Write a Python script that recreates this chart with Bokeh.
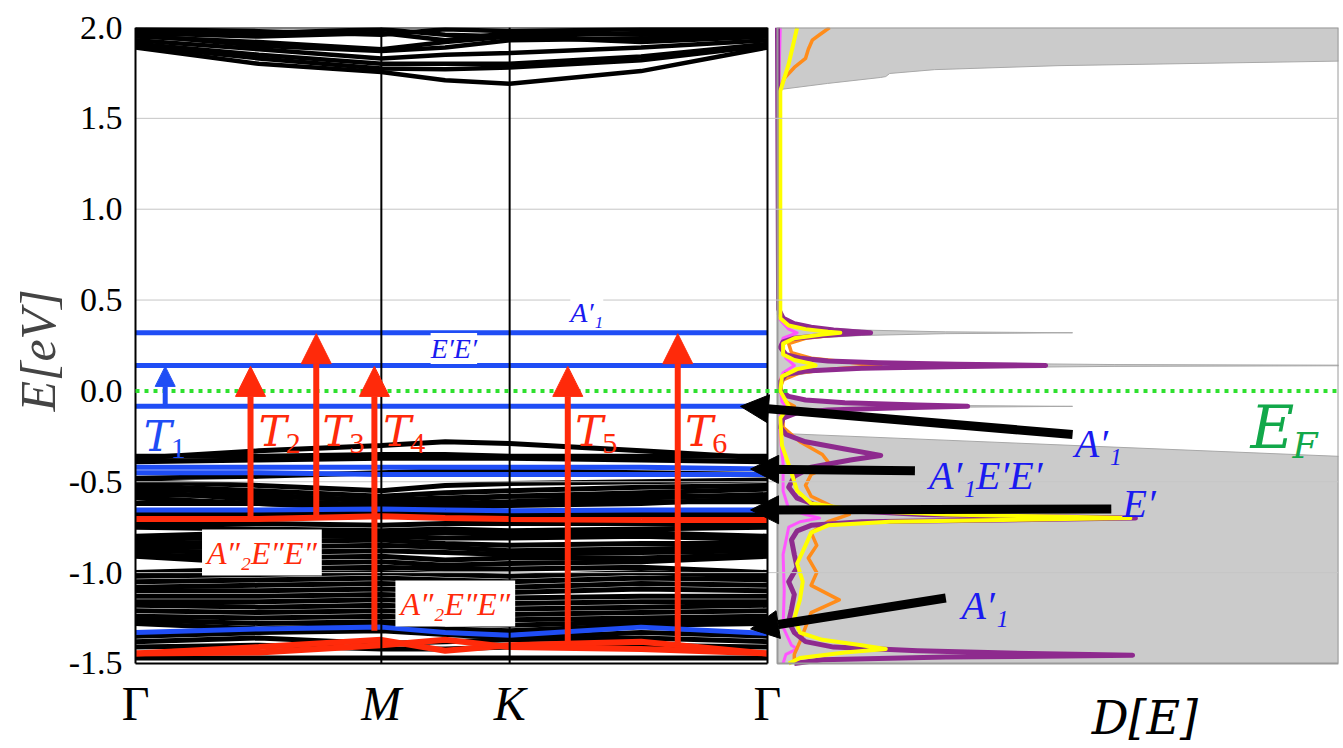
from bokeh.plotting import figure
from bokeh.models import Range1d, FixedTicker, Arrow, NormalHead, Label, ColumnDataSource
from bokeh.core.properties import value
from bokeh.embed import file_html
from bokeh.resources import INLINE

# ---------------- data ----------------
kgrid = [0.0, 0.195, 0.389, 0.49, 0.592, 0.80, 1.0]
kpoint_k = [0.0, 0.389, 0.592, 1.0]
kpoint_labels = ["Γ", "M", "K", "Γ"]
kpoint_italic = [False, True, True, False]
kpoint_label_e = -1.72

ytick_values = [2.0, 1.5, 1.0, 0.5, 0.0, -0.5, -1.0, -1.5]
ytick_labels = ["2.0", "1.5", "1.0", "0.5", "0.0", "-0.5", "-1.0", "-1.5"]
grid_values = [1.5, 1.0, 0.5, -0.5, -1.0]
e_fermi = 0.0
e_min, e_max = -1.5, 2.0

conduction_black = [
    [1.89, 1.80, 1.755, 1.71, 1.69, 1.76, 1.89],
    [1.90, 1.83, 1.775, 1.77, 1.78, 1.82, 1.90],
    [1.91, 1.85, 1.80, 1.80, 1.80, 1.84, 1.91],
    [1.93, 1.88, 1.83, 1.85, 1.86, 1.89, 1.93],
    [1.95, 1.92, 1.88, 1.92, 1.95, 1.92, 1.95],
    [1.97, 1.95, 1.97, 1.93, 1.97, 1.96, 1.97],
    [1.99, 1.98, 1.96, 1.99, 1.98, 1.99, 1.99],
    [1.96, 1.90, 1.87, 1.89, 1.93, 1.94, 1.96],
    [1.98, 1.97, 1.99, 1.96, 1.95, 1.97, 1.98],
]

valence_black = [
    [-0.37, -0.33, -0.30, -0.28, -0.29, -0.33, -0.37],
    [-0.36, -0.36, -0.35, -0.35, -0.36, -0.36, -0.36],
    [-0.39, -0.38, -0.37, -0.37, -0.37, -0.38, -0.39],
    [-0.48, -0.47, -0.45, -0.44, -0.44, -0.45, -0.46],
    [-0.50, -0.52, -0.55, -0.52, -0.51, -0.50, -0.49],
    [-0.52, -0.55, -0.58, -0.56, -0.55, -0.53, -0.52],
    [-0.53, -0.57, -0.61, -0.60, -0.58, -0.56, -0.54],
    [-0.55, -0.60, -0.63, -0.62, -0.61, -0.59, -0.57],
    [-0.57, -0.58, -0.60, -0.59, -0.58, -0.58, -0.58],
    [-0.59, -0.62, -0.65, -0.65, -0.63, -0.62, -0.59],
    [-0.62, -0.62, -0.64, -0.63, -0.62, -0.61, -0.61],
    [-0.68, -0.68, -0.67, -0.68, -0.68, -0.68, -0.68],
    [-0.73, -0.73, -0.74, -0.73, -0.73, -0.73, -0.73],
    [-0.75, -0.76, -0.77, -0.76, -0.77, -0.76, -0.75],
    [-0.80, -0.78, -0.78, -0.78, -0.79, -0.78, -0.80],
    [-0.82, -0.80, -0.80, -0.81, -0.81, -0.80, -0.82],
    [-0.84, -0.83, -0.82, -0.84, -0.85, -0.84, -0.84],
    [-0.86, -0.86, -0.85, -0.86, -0.88, -0.87, -0.86],
    [-0.88, -0.89, -0.88, -0.89, -0.90, -0.89, -0.88],
    [-0.90, -0.92, -0.91, -0.93, -0.92, -0.92, -0.90],
    [-0.91, -0.95, -0.94, -0.96, -0.95, -0.94, -0.91],
    [-1.00, -0.98, -0.97, -0.98, -0.98, -0.97, -1.00],
    [-1.02, -1.01, -1.00, -1.01, -1.02, -1.00, -1.02],
    [-1.05, -1.04, -1.03, -1.04, -1.05, -1.03, -1.04],
    [-1.08, -1.07, -1.06, -1.07, -1.08, -1.06, -1.07],
    [-1.10, -1.10, -1.09, -1.10, -1.11, -1.09, -1.10],
    [-1.13, -1.13, -1.12, -1.13, -1.14, -1.13, -1.13],
    [-1.16, -1.16, -1.15, -1.16, -1.17, -1.16, -1.16],
    [-1.18, -1.19, -1.18, -1.19, -1.20, -1.19, -1.18],
    [-1.21, -1.22, -1.21, -1.22, -1.23, -1.22, -1.21],
    [-1.24, -1.25, -1.24, -1.25, -1.26, -1.25, -1.24],
    [-1.26, -1.28, -1.27, -1.28, -1.29, -1.27, -1.26],
    [-1.28, -1.31, -1.29, -1.31, -1.32, -1.29, -1.28],
    [-1.35, -1.33, -1.32, -1.34, -1.36, -1.33, -1.35],
    [-1.38, -1.36, -1.39, -1.38, -1.37, -1.36, -1.38],
    [-1.41, -1.40, -1.42, -1.42, -1.41, -1.40, -1.41],
    [-1.47, -1.47, -1.47, -1.47, -1.47, -1.47, -1.47],
]

blue_bands = [
    [0.32, 0.32, 0.32, 0.32, 0.32, 0.32, 0.32],
    [0.14, 0.14, 0.14, 0.14, 0.14, 0.14, 0.14],
    [-0.085, -0.085, -0.085, -0.085, -0.085, -0.085, -0.085],
    [-0.42, -0.42, -0.42, -0.42, -0.42, -0.42, -0.43],
    [-0.45, -0.45, -0.46, -0.46, -0.46, -0.46, -0.46],
    [-0.655, -0.655, -0.65, -0.655, -0.66, -0.655, -0.655],
    [-1.33, -1.31, -1.30, -1.33, -1.345, -1.30, -1.335],
]

red_bands = [
    [-0.705, -0.705, -0.69, -0.70, -0.705, -0.71, -0.71],
    [-1.445, -1.41, -1.37, -1.43, -1.40, -1.38, -1.445],
    [-1.445, -1.44, -1.40, -1.37, -1.41, -1.42, -1.445],
]

trans_k = [0.047, 0.182, 0.286, 0.378, 0.684, 0.858]
trans_e_start = [-0.085, -0.69, -0.69, -1.32, -1.38, -1.40]
trans_e_end = [0.135, 0.135, 0.315, 0.135, 0.135, 0.315]
trans_letter = ["T", "T", "T", "T", "T", "T"]
trans_index = ["1", "2", "3", "4", "5", "6"]
trans_label_k = [0.013, 0.195, 0.296, 0.392, 0.696, 0.870]
trans_label_e = [-0.25, -0.225, -0.225, -0.225, -0.225, -0.225]

total_dos = [(2.0, 12), (1.82, 12), (1.815, 10), (1.79, 5.0), (1.768, 2.8), (1.747, 2.0),
             (1.73, 1.93), (1.725, 1.84), (1.692, 0.89), (1.659, 0.05), (1.642, 0.0),
             (0.40, 0.0), (0.37, 0.2), (0.35, 0.6), (0.335, 1.5), (0.325, 3.0), (0.32, 5.26),
             (0.315, 3.0), (0.305, 1.5), (0.29, 0.6), (0.27, 0.2), (0.24, 0.05), (0.20, 0.2),
             (0.17, 0.8), (0.155, 2.5), (0.145, 6.0), (0.14, 12), (0.135, 6.0), (0.125, 2.5),
             (0.11, 0.8), (0.08, 0.2), (0.04, 0.05), (-0.02, 0.05), (-0.05, 0.4), (-0.07, 1.5),
             (-0.08, 3.0), (-0.085, 5.26), (-0.09, 3.0), (-0.10, 1.5), (-0.12, 0.4),
             (-0.15, 0.05), (-0.234, 0.05), (-0.36, 10.0), (-0.37, 12), (-1.5, 12)]

purple_pdos = [(2.0, 0.0), (0.45, 0.02), (0.40, 0.1), (0.37, 0.3), (0.35, 0.6), (0.335, 1.0),
               (0.325, 1.4), (0.32, 1.66), (0.315, 1.3), (0.305, 0.8), (0.29, 0.3), (0.27, 0.1),
               (0.24, 0.05), (0.20, 0.15), (0.18, 0.4), (0.165, 0.9), (0.155, 1.8), (0.147, 3.2),
               (0.14, 4.78), (0.133, 3.0), (0.125, 1.5), (0.11, 0.5), (0.09, 0.15), (0.05, 0.05),
               (0.0, 0.05), (-0.03, 0.2), (-0.05, 0.5), (-0.065, 1.2), (-0.077, 2.5),
               (-0.085, 3.39), (-0.093, 2.2), (-0.105, 0.9), (-0.12, 0.35), (-0.15, 0.1),
               (-0.20, 0.05), (-0.24, 0.15), (-0.28, 0.5), (-0.32, 1.2), (-0.355, 1.84),
               (-0.38, 1.3), (-0.42, 0.6), (-0.47, 0.3), (-0.53, 0.2), (-0.59, 0.35),
               (-0.63, 0.7), (-0.66, 1.3), (-0.68, 2.6), (-0.69, 4.2), (-0.70, 6.38),
               (-0.71, 4.0), (-0.72, 1.5), (-0.74, 0.6), (-0.77, 0.35), (-0.82, 0.25),
               (-0.90, 0.3), (-0.97, 0.35), (-1.05, 0.2), (-1.12, 0.3), (-1.20, 0.25),
               (-1.27, 0.2), (-1.33, 0.3), (-1.38, 0.5), (-1.41, 1.0), (-1.43, 2.5),
               (-1.445, 4.5), (-1.455, 6.33), (-1.465, 3.0), (-1.48, 0.8), (-1.50, 0.3)]

yellow_pdos = [(2.0, 0.35), (1.8, 0.2), (1.65, 0.05), (0.40, 0.05), (0.36, 0.2), (0.34, 0.5),
               (0.325, 0.9), (0.32, 1.12), (0.31, 0.8), (0.29, 0.3), (0.26, 0.1), (0.20, 0.1),
               (0.17, 0.3), (0.15, 0.6), (0.14, 0.68), (0.12, 0.35), (0.08, 0.08), (0.0, 0.05),
               (-0.085, 0.2), (-0.15, 0.05), (-0.30, 0.08), (-0.45, 0.25), (-0.55, 0.35),
               (-0.62, 0.6), (-0.66, 1.5), (-0.68, 3.0), (-0.69, 4.6), (-0.70, 6.29),
               (-0.71, 4.0), (-0.72, 2.0), (-0.74, 0.9), (-0.78, 0.6), (-0.85, 0.5),
               (-0.95, 0.35), (-1.05, 0.45), (-1.15, 0.4), (-1.25, 0.3), (-1.33, 0.4),
               (-1.37, 0.8), (-1.40, 1.5), (-1.42, 1.93), (-1.44, 1.2), (-1.47, 0.4), (-1.50, 0.2)]

orange_pdos = [(2.0, 0.93), (1.96, 0.75), (1.93, 0.62), (1.88, 0.55), (1.83, 0.5), (1.78, 0.3),
               (1.72, 0.12), (1.64, 0.02), (0.42, 0.02), (0.37, 0.2), (0.345, 0.7), (0.33, 1.2),
               (0.32, 1.44), (0.31, 1.1), (0.29, 0.5), (0.26, 0.2), (0.21, 0.25), (0.18, 0.6),
               (0.16, 1.2), (0.14, 1.84), (0.12, 1.0), (0.10, 0.4), (0.06, 0.1), (0.02, 0.05),
               (-0.06, 0.15), (-0.085, 0.3), (-0.11, 0.1), (-0.20, 0.1), (-0.28, 0.4),
               (-0.35, 0.8), (-0.41, 0.95), (-0.46, 0.6), (-0.52, 0.5), (-0.58, 0.6),
               (-0.64, 1.0), (-0.68, 1.28), (-0.72, 0.9), (-0.78, 0.6), (-0.85, 0.7),
               (-0.92, 0.55), (-1.00, 0.7), (-1.07, 0.6), (-1.15, 1.1), (-1.22, 0.6),
               (-1.30, 0.5), (-1.38, 0.4), (-1.45, 0.3), (-1.50, 0.3)]

magenta_pdos = [(2.0, 0.05), (1.65, 0.02), (0.40, 0.02), (0.34, 0.2), (0.32, 0.35), (0.29, 0.1),
                (0.25, 0.05), (0.18, 0.15), (0.14, 0.3), (0.10, 0.1), (0.05, 0.03), (-0.06, 0.08),
                (-0.085, 0.15), (-0.12, 0.05), (-0.2, 0.03), (-0.4, 0.1), (-0.55, 0.1),
                (-0.65, 0.2), (-0.68, 0.5), (-0.70, 0.75), (-0.72, 0.4), (-0.75, 0.2),
                (-0.9, 0.1), (-1.1, 0.12), (-1.3, 0.1), (-1.40, 0.25), (-1.42, 0.35),
                (-1.45, 0.15), (-1.5, 0.1)]

dos_max = 10

ptr_tail_D = [5.26, 2.45, 5.95, 3.0]
ptr_tail_E = [-0.24, -0.44, -0.65, -1.14]
ptr_head_D = [-0.66, -0.48, -0.48, -0.48]
ptr_head_E = [-0.085, -0.43, -0.655, -1.31]
ptr_labels = ["A′₁", "A′₁E′E′", "E′", "A′₁"]
ptr_label_D = [5.3, 2.7, 6.15, 3.28]
ptr_label_E = [-0.29, -0.465, -0.62, -1.18]

band_labels_blue = ["A′₁", "E′E′"]
band_labels_blue_k = [0.688, 0.467]
band_labels_blue_e = [0.43, 0.233]
band_labels_red = ["A″₂E″E″", "A″₂E″E″"]
band_labels_red_k = [0.200, 0.506]
band_labels_red_e = [-0.89, -1.17]

fermi_label_D = 8.43
fermi_label_e = -0.20
dos_axis_label = "D[E]"
dos_axis_label_D = 5.6
dos_axis_label_e = -1.80
energy_axis_label = "E[eV]"

# ---------------- style ----------------
BLUE = "#1f4df5"
RED = "#ff2a0a"
TXTBLUE = "#1a1af0"
K_START, K_END = -0.03956, 1.9035   # frame extent in k units (layout)

def unzip(pairs):
    return [d for _, d in pairs], [e for e, _ in pairs]

p = figure(width=1343, height=748, x_range=Range1d(K_START, K_END),
           y_range=Range1d(-1.968, e_max), output_backend="svg",
           toolbar_location=None, title=None,
           min_border_left=110, min_border_right=5, min_border_top=27,
           min_border_bottom=0)
p.extra_x_ranges = {"dos": Range1d(-11.889, dos_max)}
p.outline_line_color = None
p.xaxis.visible = False
p.xgrid.visible = False
p.ygrid.visible = False

p.yaxis.ticker = FixedTicker(ticks=ytick_values)
p.yaxis.major_label_overrides = {v: l for v, l in zip(ytick_values, ytick_labels)}
p.yaxis.major_label_text_font = "Liberation Serif"
p.yaxis.major_label_text_font_size = "34px"
p.yaxis.major_label_text_color = "black"
p.yaxis.axis_line_color = None
p.yaxis.major_tick_line_color = None
p.yaxis.minor_tick_line_color = None
p.yaxis.major_label_standoff = -18
# leading no-break spaces lift the centred label to the middle of the band panel
p.yaxis.axis_label = "\u00a0" * 6 + energy_axis_label
p.yaxis.axis_label_text_font = "Liberation Serif"
p.yaxis.axis_label_text_font_style = "italic"
p.yaxis.axis_label_text_font_size = "50px"
p.yaxis.axis_label_standoff = 0

# DOS
tD, tE = unzip(total_dos)
p.harea(x1=0, x2=tD, y=tE, fill_color="#cbcbcb", x_range_name="dos")
p.line(tD, tE, line_color="#a8a8a8", line_width=1, x_range_name="dos")
for pairs, col, w in [(magenta_pdos, "#ff55ff", 3), (orange_pdos, "#ff8c1a", 3.5),
                      (purple_pdos, "#8e2a8e", 5), (yellow_pdos, "#ffff00", 4)]:
    d, e = unzip(pairs)
    p.line(d, e, line_color=col, line_width=w, line_join="round", x_range_name="dos")
p.quad(left=[0], right=[dos_max], bottom=[e_min], top=[e_max], fill_color=None,
       line_color="#9a9a9a", line_width=2, x_range_name="dos")

# bands
p.multi_line([kgrid] * len(conduction_black), conduction_black, line_color="black", line_width=4.5)
p.multi_line([kgrid] * len(valence_black), valence_black, line_color="black", line_width=5)
p.multi_line([kgrid] * len(blue_bands), blue_bands, line_color=BLUE, line_width=5)
p.multi_line([kgrid] * len(red_bands), red_bands, line_color=RED, line_width=6)

# grid lines over both panels
p.segment(x0=kpoint_k[0], x1=K_END, y0=grid_values, y1=grid_values,
          line_color="#c6c6c6", line_width=1)

# frame of band panel
p.segment(x0=kpoint_k, x1=kpoint_k, y0=e_min, y1=e_max, line_color="black", line_width=2)
p.segment(x0=[kpoint_k[0], kpoint_k[0]], x1=[kpoint_k[-1], kpoint_k[-1]],
          y0=[e_max, e_min], y1=[e_max, e_min], line_color="black", line_width=2)

# Fermi level
p.segment(x0=[kpoint_k[0]], x1=[K_END], y0=[e_fermi], y1=[e_fermi],
          line_color="#2ee02e", line_width=4, line_dash="4 5")

# transitions
tsrc = ColumnDataSource(dict(k=trans_k[1:], e0=trans_e_start[1:], e1=trans_e_end[1:]))
p.add_layout(Arrow(end=NormalHead(size=30, fill_color=RED, line_color=RED),
                   x_start="k", y_start="e0", x_end="k", y_end="e1", source=tsrc,
                   line_color=RED, line_width=6))
t1src = ColumnDataSource(dict(k=trans_k[:1], e0=trans_e_start[:1], e1=trans_e_end[:1]))
p.add_layout(Arrow(end=NormalHead(size=20, fill_color=BLUE, line_color=BLUE),
                   x_start="k", y_start="e0", x_end="k", y_end="e1", source=t1src,
                   line_color=BLUE, line_width=5))
tcolors = [BLUE] + [RED] * 5
p.text(x=trans_label_k, y=trans_label_e, text=trans_letter,
       text_color=tcolors, text_font=value("DejaVu Serif"), text_font_style="italic",
       text_font_size="42px", text_baseline="middle", text_align="left")
p.text(x=trans_label_k, y=trans_label_e, text=trans_index, x_offset=27, y_offset=12,
       text_color=tcolors, text_font=value("Liberation Serif"),
       text_font_size="30px", text_baseline="middle", text_align="left")

# band labels
p.text(x=band_labels_blue_k, y=band_labels_blue_e, text=band_labels_blue,
       text_color=TXTBLUE, text_font=value("Liberation Serif"), text_font_style="italic",
       text_font_size="28px", text_baseline="middle", text_align="left",
       background_fill_color="white")
for k, e, t in zip(band_labels_red_k, band_labels_red_e, band_labels_red):
    p.add_layout(Label(x=k, y=e, text=t, text_color=RED, text_font="Liberation Serif",
                       text_font_style="italic", text_font_size="32px",
                       text_align="center", text_baseline="middle",
                       background_fill_color="white", padding=5))

# pointer arrows
psrc = ColumnDataSource(dict(x0=ptr_tail_D, y0=ptr_tail_E, x1=ptr_head_D, y1=ptr_head_E))
p.add_layout(Arrow(end=NormalHead(size=28, fill_color="black", line_color="black"),
                   x_start="x0", y_start="y0", x_end="x1", y_end="y1", source=psrc,
                   line_color="black", line_width=9, x_range_name="dos"))
p.text(x=ptr_label_D, y=ptr_label_E, text=ptr_labels, text_color=TXTBLUE,
       text_font=value("Liberation Serif"), text_font_style="italic", text_font_size="40px",
       text_baseline="middle", text_align="left", x_range_name="dos")

p.text(x=[fermi_label_D], y=[fermi_label_e], text=["E"], text_color="#12a84a",
       text_font=value("DejaVu Serif"), text_font_style="italic", text_font_size="60px",
       text_baseline="middle", x_range_name="dos")
p.text(x=[fermi_label_D], y=[fermi_label_e], text=["F"], x_offset=42, y_offset=18,
       text_color="#12a84a", text_font=value("DejaVu Serif"), text_font_style="italic",
       text_font_size="36px", text_baseline="middle", x_range_name="dos")

# k-point labels and DOS axis label
for k, t, it in zip(kpoint_k, kpoint_labels, kpoint_italic):
    p.text(x=[k], y=[kpoint_label_e], text=[t], text_font=value("Liberation Serif"),
           text_font_style="italic" if it else "normal", text_font_size="48px",
           text_align="center", text_baseline="middle", text_color="black")
p.text(x=[dos_axis_label_D], y=[dos_axis_label_e], text=[dos_axis_label],
       text_font=value("DejaVu Serif"), text_font_style="italic", text_font_size="46px",
       text_align="left", text_baseline="middle", text_color="black", x_range_name="dos")

open("out.html", "w").write(file_html(p, INLINE))
